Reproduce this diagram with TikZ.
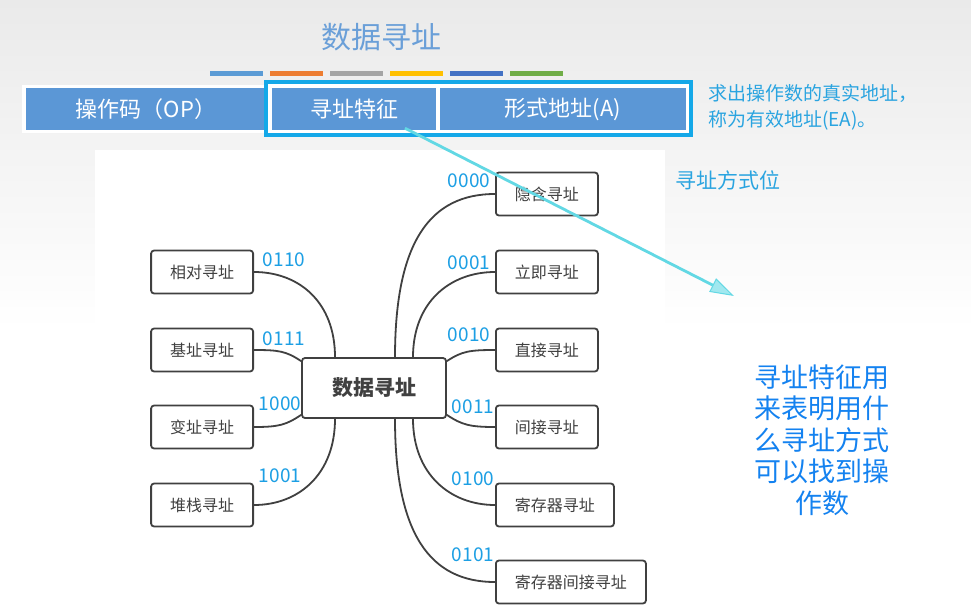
\documentclass[tikz,border=0pt]{standalone}
\usepackage{fontspec}
\setmainfont{Noto Sans CJK SC}
\usetikzlibrary{arrows.meta,positioning,calc}

\definecolor{bgtop}{HTML}{EAEAEA}
\definecolor{titleblue}{HTML}{6A9FD8}
\definecolor{fieldblue}{HTML}{5B97D6}
\definecolor{framecyan}{HTML}{14A8E8}
\definecolor{notecyan}{HTML}{2AA4E0}
\definecolor{codeblue}{HTML}{1C9FE4}
\definecolor{explainblue}{HTML}{1482F0}
\definecolor{pointcyan}{HTML}{62D8E4}
\definecolor{nodegray}{HTML}{404040}
\definecolor{barA}{HTML}{5B9BD5}
\definecolor{barB}{HTML}{ED7D31}
\definecolor{barC}{HTML}{A5A5A5}
\definecolor{barD}{HTML}{FFC000}
\definecolor{barE}{HTML}{4472C4}
\definecolor{barF}{HTML}{70AD47}

\begin{document}
\begin{tikzpicture}[
    x=1pt, y=-1pt,
    field/.style={fill=fieldblue, text=white, minimum height=42pt, inner sep=0pt,
      font=\fontsize{22}{24}\selectfont},
    mode/.style={draw=nodegray, line width=1.8pt, rounded corners=3pt, fill=white,
      minimum height=43pt, minimum width=102pt, inner sep=0pt, text=nodegray,
      font=\fontsize{16}{18}\selectfont},
    link/.style={draw=nodegray, line width=1.8pt},
    code/.style={text=codeblue, inner sep=0pt, font=\fontsize{19}{20}\selectfont},
    pointer/.style={draw=pointcyan, line width=2.8pt,
      -{Triangle[length=24pt, width=15pt, fill=pointcyan!60, line width=1pt]}}
  ]
    \useasboundingbox (0,0) rectangle (971,610);
    \shade[top color=bgtop, bottom color=white] (0,0) rectangle (971,330);
    \fill[white] (0,330) rectangle (971,610);
    \fill[white] (95,150) rectangle (665,610);

    % title and colour strip
    \node[text=titleblue, font=\fontsize{30}{32}\selectfont] (title) at (381,37) {数据寻址};
    \foreach \c [count=\i from 0] in {barA,barB,barC,barD,barE,barF}
      \fill[\c] ({210+\i*60},71) rectangle ++(53,5);

    % instruction format
    \fill[white] (22,85) rectangle (269,133);
    \node[field, minimum width=241pt] (op) at (146,109) {操作码（OP）};
    \fill[white] (266,82) rectangle (691,135);
    \draw[framecyan, line width=3.5pt] (266,82) rectangle (691,135);
    \node[field, minimum width=164pt] (feat) at (354,109) {寻址特征};
    \node[field, minimum width=246pt] (addr) at (563,109) {形式地址(A)};

    \node[text=notecyan, align=left, anchor=north west, inner sep=0pt,
      font=\fontsize{19}{26}\selectfont] (ea) at (708,84)
      {求出操作数的真实地址，\\称为有效地址(EA)。};
    \node[text=notecyan, anchor=west, inner sep=0pt,
      font=\fontsize{21}{22}\selectfont] (bits) at (675,180) {寻址方式位};

    % mind map
    \node[mode, minimum width=144pt, minimum height=60pt,
      font=\fontsize{21}{22}\selectfont\bfseries] (hub) at (374,388) {数据寻址};

    \node[mode, anchor=west] (implied) at (495,194) {隐含寻址};
    \node[mode, anchor=west] (immediate) at (495,272) {立即寻址};
    \node[mode, anchor=west] (direct) at (495,350) {直接寻址};
    \node[mode, anchor=west] (indirect) at (495,427) {间接寻址};
    \node[mode, anchor=west, minimum width=118pt] (register) at (495,505) {寄存器寻址};
    \node[mode, anchor=west, minimum width=150pt] (regind) at (495,582) {寄存器间接寻址};

    \node[mode, anchor=east] (relative) at (254,272) {相对寻址};
    \node[mode, anchor=east] (base) at (254,350) {基址寻址};
    \node[mode, anchor=east] (indexed) at (254,427) {变址寻址};
    \node[mode, anchor=east] (stack) at (254,505) {堆栈寻址};

    \draw[link] ([xshift=21pt]hub.north) .. controls +(0,-115) and +(-65,0) .. (implied.west);
    \draw[link] ([xshift=39pt]hub.north) .. controls +(0,-55) and +(-45,0) .. (immediate.west);
    \draw[link] ([yshift=-4pt]hub.north east) .. controls +(15,-10) and +(-25,0) .. (direct.west);
    \draw[link] ([yshift=4pt]hub.south east) .. controls +(15,10) and +(-25,0) .. (indirect.west);
    \draw[link] ([xshift=39pt]hub.south) .. controls +(0,55) and +(-45,0) .. (register.west);
    \draw[link] ([xshift=21pt]hub.south) .. controls +(0,115) and +(-65,0) .. (regind.west);

    \draw[link] ([xshift=-39pt]hub.north) .. controls +(0,-55) and +(45,0) .. (relative.east);
    \draw[link] ([yshift=-4pt]hub.north west) .. controls +(-15,-10) and +(25,0) .. (base.east);
    \draw[link] ([yshift=4pt]hub.south west) .. controls +(-15,10) and +(25,0) .. (indexed.east);
    \draw[link] ([xshift=-39pt]hub.south) .. controls +(0,55) and +(45,0) .. (stack.east);

    \node[code] (c0000) at (469,181) {0000};
    \node[code] (c0001) at (469,263) {0001};
    \node[code] (c0010) at (469,335) {0010};
    \node[code] (c0011) at (473,407) {0011};
    \node[code] (c0100) at (473,479) {0100};
    \node[code] (c0101) at (473,555) {0101};
    \node[code] (c0110) at (284,260) {0110};
    \node[code] (c0111) at (284,339) {0111};
    \node[code] (c1000) at (280,404) {1000};
    \node[code] (c1001) at (280,476) {1001};

    \node[text=explainblue, align=center, font=\fontsize{27}{31.5}\selectfont] (why) at (822,440)
      {寻址特征用\\来表明用什\\么寻址方式\\可以找到操\\作数};

    % pointer from the mode field
    \coordinate (tip) at (734,296);
    \draw[pointer] ([xshift=51pt,yshift=2pt]feat.south) -- (tip);
  \end{tikzpicture}
\end{document}
